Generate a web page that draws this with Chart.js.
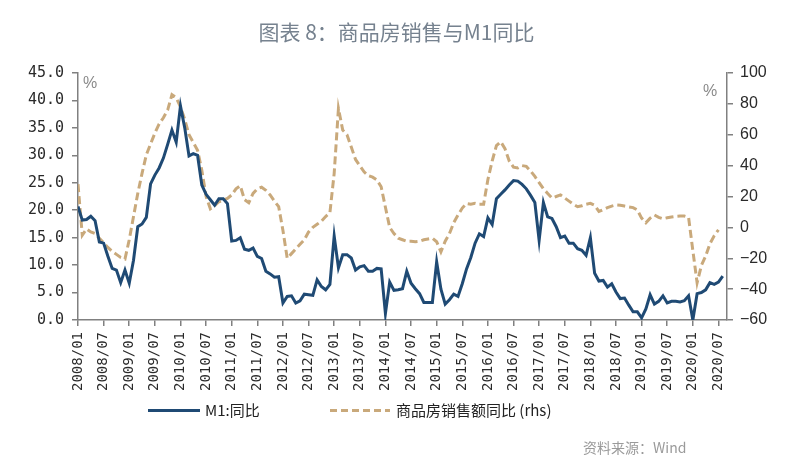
<!DOCTYPE html>
<html>
<head>
<meta charset="utf-8">
<script src="https://cdn.jsdelivr.net/npm/chart.js@4.4.0/dist/chart.umd.min.js"></script>
<style>
  body { margin: 0; background: #fff; }
  #wrap { position: relative; width: 796px; height: 467px; overflow: hidden; font-family: "Noto Sans CJK SC", sans-serif; }
  canvas { position: absolute; left: 0; top: 0; }
  .title { position: absolute; left: 0; top: 17px; width: 793px; text-align: center; font-size: 21px; line-height: 29px; color: #76828f; }
  .pct { position: absolute; font-family: "Liberation Sans", sans-serif; font-size: 16px; color: #8a8a8a; }
  .lg-line { position: absolute; height: 3px; }
  .lg-text { position: absolute; font-size: 15px; line-height: 20px; color: #222; }
  .source { position: absolute; left: 583px; top: 437px; font-size: 14px; color: #9a9a9a; }
</style>
</head>
<body>
<div id="wrap">
  <canvas id="chart" width="796" height="467"></canvas>
  <div class="title">图表 8：商品房销售与M1同比</div>
  <div class="pct" style="left:83px;top:74px;">%</div>
  <div class="pct" style="left:703px;top:82px;">%</div>
  <div class="lg-line" style="left:148px;top:409px;width:52px;background:#1f4a74;"></div>
  <div class="lg-text" style="left:205px;top:400px;">M1:同比</div>
  <div class="lg-line" style="left:330px;top:409px;width:60px;background:repeating-linear-gradient(90deg,#c9a97b 0 7px,transparent 7px 11px);"></div>
  <div class="lg-text" style="left:396px;top:400px;">商品房销售额同比 (rhs)</div>
  <div class="source">资料来源：Wind</div>
</div>
<script>
// 月度数据，2008/01 起
const tickLabels = [
  "2008/01","2008/07","2009/01","2009/07","2010/01","2010/07","2011/01","2011/07",
  "2012/01","2012/07","2013/01","2013/07","2014/01","2014/07","2015/01","2015/07",
  "2016/01","2016/07","2017/01","2017/07","2018/01","2018/07","2019/01","2019/07",
  "2020/01","2020/07"
];
const tickIndex = tickLabels.map((_, i) => i * 6);

// M1 同比 (%)，左轴
const m1 = [
  20.7, 18.2, 18.3, 18.9, 18.1, 14.2, 14.0, 11.6, 9.4, 9.1, 6.8, 9.1,
  6.7, 10.9, 17.0, 17.5, 18.7, 24.8, 26.4, 27.7, 29.5, 32.0, 34.6, 32.4,
  39.0, 35.0, 29.9, 30.3, 30.0, 24.6, 22.9, 21.9, 20.9, 22.1, 22.1, 21.2,
  14.4, 14.5, 15.0, 12.9, 12.7, 13.1, 11.6, 11.2, 8.9, 8.4, 7.8, 7.9,
  3.1, 4.3, 4.4, 3.1, 3.5, 4.7, 4.6, 4.5, 7.3, 6.1, 5.5, 6.5,
  15.3, 9.5, 11.9, 11.9, 11.3, 9.1, 9.7, 9.9, 8.9, 8.9, 9.4, 9.3,
  1.2, 6.9, 5.4, 5.5, 5.7, 8.9, 6.7, 5.7, 4.8, 3.2, 3.2, 3.2,
  10.6, 5.6, 2.9, 3.7, 4.7, 4.3, 6.6, 9.3, 11.4, 14.0, 15.7, 15.2,
  18.6, 17.4, 22.1, 22.9, 23.7, 24.6, 25.4, 25.3, 24.7, 23.9, 22.7, 21.4,
  14.5, 21.4, 18.8, 18.5, 17.0, 15.0, 15.3, 14.0, 14.0, 13.0, 12.7, 11.8,
  15.0, 8.5, 7.1, 7.2, 6.0, 6.6, 5.1, 3.9, 4.0, 2.7, 1.5, 1.5,
  0.4, 2.0, 4.6, 2.9, 3.4, 4.4, 3.1, 3.4, 3.4, 3.3, 3.5, 4.4,
  0.0, 4.8, 5.0, 5.5, 6.8, 6.5, 6.9, 8.0
];

// 商品房销售额同比 (%)，右轴
const sales = [
  28, -5, -1, -3, -4, -7, -10, -13, -15.5, -17.5, -19.5, -20.5,
  -8, 7, 22, 35, 47, 54, 61, 67, 71, 76, 86, 84,
  78, 70, 60, 55, 50, 37, 20, 12, 14, 16.6, 17.5, 18.8,
  21, 25, 27, 18, 16, 22, 25, 26, 24, 21, 17, 13.4,
  -2, -20, -17, -14, -11, -8, -3, 0, 2, 4, 7, 9.5,
  35, 77, 63, 60, 52, 44, 40, 36, 33.5, 32.5, 30.7, 26.3,
  13, 0, -4, -7, -8, -9, -9, -9.3, -9, -8, -7.5, -7,
  -9.3, -15.8, -9, -4, 3, 8, 12.5, 15.5, 15, 15.6, 15, 15,
  31, 43, 53, 55.5, 51, 43, 39, 38.5, 40, 39.5, 36.5, 33,
  29, 25, 22, 19, 20, 21, 19, 17, 15, 13.4, 14, 15,
  15.6, 14.3, 10.3, 11.5, 12.8, 13.8, 14.5, 14.3, 13.8, 13.3, 12.8, 11.3,
  6, 3, 6, 8, 6.5, 5.6, 6.2, 6.7, 7.1, 7.3, 7.3, 6.5,
  -15, -35.9, -24.7, -18.6, -10.6, -5.4, -1.6
];

const axisColor = "#808080";

new Chart(document.getElementById("chart"), {
  type: "line",
  data: {
    datasets: [
      {
        label: "M1:同比",
        data: m1.map((v, i) => ({ x: i, y: v })),
        yAxisID: "y",
        borderColor: "#1f4a74",
        borderWidth: 3,
        pointRadius: 0,
        tension: 0,
      },
      {
        label: "商品房销售额同比 (rhs)",
        data: sales.map((v, i) => ({ x: i, y: v })),
        yAxisID: "y1",
        borderColor: "#c9a97b",
        borderWidth: 3,
        borderDash: [8, 4],
        pointRadius: 0,
        tension: 0,
      },
    ],
  },
  options: {
    responsive: false,
    animation: false,
    layout: { padding: { top: 73, left: 0, right: 0, bottom: 0 } },
    plugins: { legend: { display: false }, tooltip: { enabled: false } },
    scales: {
      x: {
        type: "linear",
        min: 0,
        max: 152,
        afterBuildTicks: s => { s.ticks = tickIndex.map(v => ({ value: v })); },
        afterFit: s => { s.height = 147; },
        ticks: {
          autoSkip: false,
          minRotation: 90,
          maxRotation: 90,
          padding: 6,
          color: "#2a2a2a",
          font: { family: "DejaVu Sans Mono", size: 14 },
          callback: (v, i) => tickLabels[i],
        },
        grid: { drawOnChartArea: false, tickLength: 6, color: axisColor, lineWidth: 1.5 },
        border: { color: axisColor, width: 1.5 },
      },
      y: {
        position: "left",
        min: 0,
        max: 45,
        afterFit: s => { s.width = 78; },
        ticks: {
          stepSize: 5,
          padding: 8,
          color: "#2a2a2a",
          font: { family: "DejaVu Sans Mono", size: 15 },
          callback: v => v.toFixed(1),
        },
        grid: { drawOnChartArea: false, tickLength: 6, color: axisColor, lineWidth: 1.5 },
        border: { color: axisColor, width: 1.5 },
      },
      y1: {
        position: "right",
        min: -60,
        max: 100,
        afterFit: s => { s.width = 69; },
        ticks: {
          stepSize: 20,
          padding: 7,
          color: "#2a2a2a",
          font: { family: "Liberation Sans", size: 16 },
          callback: v => String(v).replace("-", "\u2212"),
        },
        grid: { drawOnChartArea: false, tickLength: 6, color: axisColor, lineWidth: 1.5 },
        border: { color: axisColor, width: 1.5 },
      },
    },
  },
});
</script>
</body>
</html>
